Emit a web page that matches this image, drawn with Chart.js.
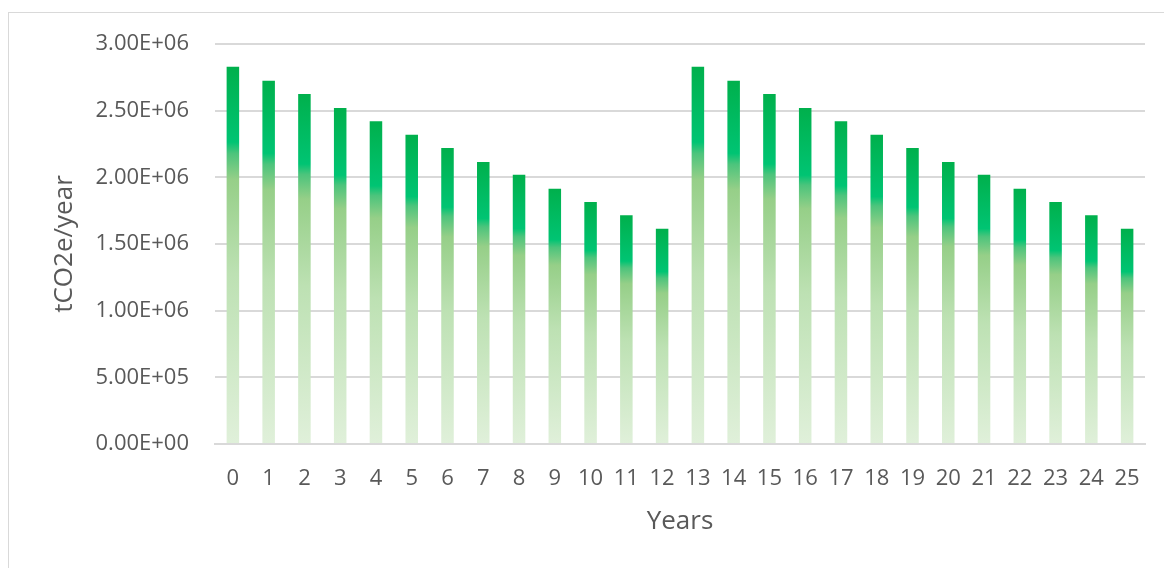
<!DOCTYPE html>
<html>
<head>
<meta charset="utf-8">
<script src="https://cdn.jsdelivr.net/npm/chart.js@4.4.1/dist/chart.umd.min.js"></script>
<style>
  html, body { margin: 0; padding: 0; background: #ffffff; overflow: hidden; }
  #wrap { position: relative; width: 1164px; height: 568px; overflow: hidden; }
  #frame { position: absolute; left: 8px; top: 12px; width: 1200px; height: 600px; border: 1.5px solid #d9d9d9; box-sizing: border-box; }
  #c { position: absolute; left: 0; top: 0; }
</style>
</head>
<body>
<div id="wrap">
  <div id="frame"></div>
  <canvas id="c" width="1164" height="568"></canvas>
</div>
<script>
const years = ['0','1','2','3','4','5','6','7','8','9','10','11','12','13','14','15','16','17','18','19','20','21','22','23','24','25'];
const emissions = [2830000, 2725000, 2625000, 2520000, 2420000, 2320000, 2220000, 2115000, 2020000, 1915000, 1815000, 1715000, 1615000,
                   2830000, 2725000, 2625000, 2520000, 2420000, 2320000, 2220000, 2115000, 2020000, 1915000, 1815000, 1715000, 1615000];
const yTicks = [0, 500000, 1000000, 1500000, 2000000, 2500000, 3000000];
const yTitle = 'tCO2e/year';
const xTitle = 'Years';

const textColor = '#595959';
const fontFamily = '"Open Sans", "Noto Sans", sans-serif';

function barGradient(context) {
  const chart = context.chart;
  if (!chart.chartArea || context.raw == null) return '#00B050';
  const y = chart.scales.y;
  const top = y.getPixelForValue(context.raw);
  const bottom = y.getPixelForValue(0);
  if (!isFinite(top) || !isFinite(bottom) || bottom - top < 1) return '#00B050';
  const g = chart.ctx.createLinearGradient(0, top, 0, bottom);
  g.addColorStop(0, '#00B04C');
  g.addColorStop(0.2, '#00C473');
  g.addColorStop(0.23, '#4CC47C');
  g.addColorStop(0.30, '#96CF88');
  g.addColorStop(0.55, '#BDE1B3');
  g.addColorStop(1, '#E0F0DA');
  return g;
}

new Chart(document.getElementById('c'), {
  type: 'bar',
  data: {
    labels: years,
    datasets: [{
      data: emissions,
      backgroundColor: barGradient,
      borderWidth: 0,
      categoryPercentage: 1.0,
      barPercentage: 0.35
    }]
  },
  options: {
    responsive: false,
    animation: false,
    devicePixelRatio: 1,
    layout: { padding: { left: 49, top: 44, right: 19, bottom: 31 } },
    plugins: { legend: { display: false }, tooltip: { enabled: false } },
    scales: {
      x: {
        grid: { display: false, drawTicks: false },
        border: { display: true, color: '#d9d9d9', width: 2 },
        ticks: { color: textColor, font: { family: fontFamily, size: 22 }, padding: 22, maxRotation: 0, autoSkip: false },
        title: { display: true, text: xTitle, color: textColor, font: { family: fontFamily, size: 26 }, padding: 0 },
        afterFit: (s) => { s.height = 93; }
      },
      y: {
        min: 0, max: 3000000,
        afterBuildTicks: (s) => { s.ticks = yTicks.map(v => ({ value: v })); },
        grid: { color: '#d9d9d9', lineWidth: 2, drawTicks: false },
        border: { display: false },
        ticks: {
          color: textColor, font: { family: fontFamily, size: 22 }, padding: 26,
          callback: (v) => Number(v).toExponential(2).toUpperCase().replace(/E([+-])(\d)$/, 'E$10$2')
        },
        title: { display: true, text: yTitle, color: textColor, font: { family: fontFamily, size: 26 }, padding: 0 },
        afterFit: (s) => { s.width = 166; }
      }
    }
  }
});
</script>
</body>
</html>
